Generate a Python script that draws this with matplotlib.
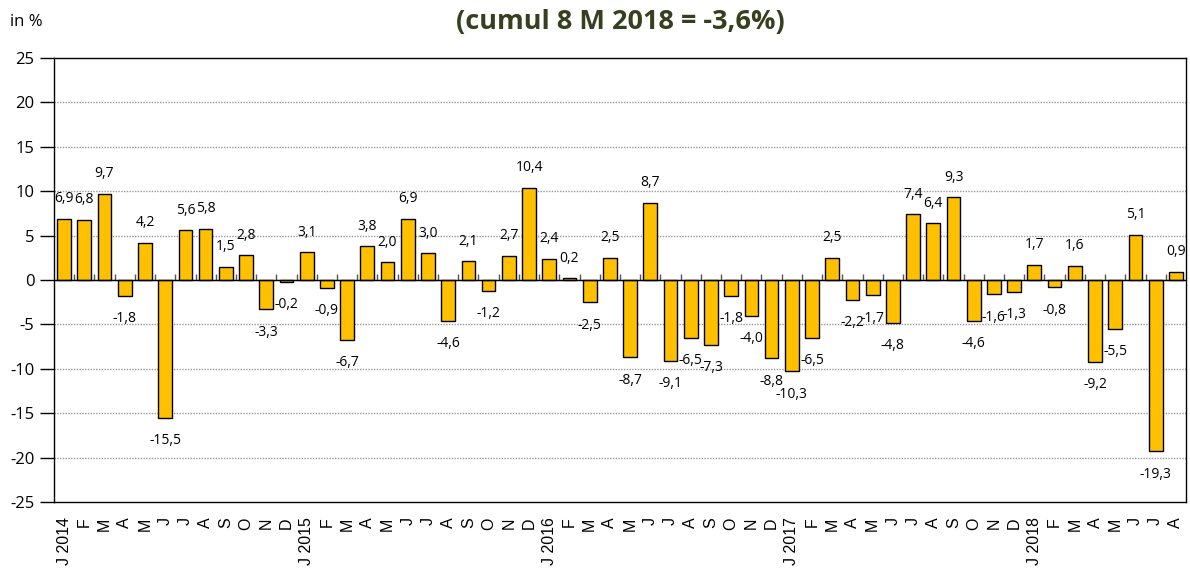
import numpy as np
import matplotlib
matplotlib.use("Agg")
import matplotlib.pyplot as plt

# ---- data ----
months = ["J", "F", "M", "A", "M", "J", "J", "A", "S", "O", "N", "D"]
years = [2014, 2015, 2016, 2017, 2018]
values_2014 = [6.9, 6.8, 9.7, -1.8, 4.2, -15.5, 5.6, 5.8, 1.5, 2.8, -3.3, -0.2]
values_2015 = [3.1, -0.9, -6.7, 3.8, 2.0, 6.9, 3.0, -4.6, 2.1, -1.2, 2.7, 10.4]
values_2016 = [2.4, 0.2, -2.5, 2.5, -8.7, 8.7, -9.1, -6.5, -7.3, -1.8, -4.0, -8.8]
values_2017 = [-10.3, -6.5, 2.5, -2.2, -1.7, -4.8, 7.4, 6.4, 9.3, -4.6, -1.6, -1.3]
values_2018 = [1.7, -0.8, 1.6, -9.2, -5.5, 5.1, -19.3, 0.9]
title = "(cumul 8 M 2018 = -3,6%)"
unit_label = "in %"

values = values_2014 + values_2015 + values_2016 + values_2017 + values_2018
tick_labels = []
for i in range(len(values)):
    m = i % 12
    y = years[i // 12]
    tick_labels.append(f"J {y}" if m == 0 else months[m])

# ---- figure ----
fig = plt.figure(figsize=(11.9, 5.7), dpi=100)
ax = fig.add_axes([0.0454, 0.1193, 0.9512, 0.7789])

x = np.arange(len(values))
ax.bar(x, values, width=0.68, color="#FFC000", edgecolor="black", linewidth=1.0, zorder=3)

ax.set_xlim(-0.5, len(values) - 0.5)
ax.set_ylim(-25, 25)
ax.set_yticks(np.arange(-25, 26, 5))
ax.set_yticklabels([str(v) for v in range(-25, 26, 5)], fontfamily="Open Sans", fontsize=12)
ax.tick_params(axis="y", direction="out", length=10, width=1, pad=4)

ax.set_xticks(x)
ax.set_xticklabels(tick_labels, rotation=90, fontfamily="Liberation Sans", fontsize=11.5, va="top")
ax.tick_params(axis="x", length=0, pad=11)

# gridlines
for gv in range(-20, 25, 5):
    if gv != 0:
        ax.axhline(gv, color="#9a9a9a", linestyle=(0, (1, 1)), linewidth=1.0, zorder=1)

for sp in ax.spines.values():
    sp.set_color("black")
    sp.set_linewidth(1.0)

# zero category axis with tick marks between categories
sec = ax.secondary_xaxis(0.5)
sec.set_xticks(np.arange(len(values) - 1) + 0.5)
sec.set_xticklabels([])
sec.tick_params(axis="x", direction="out", length=4, width=1, color="#555555")
sec.spines["bottom"].set_color("black")
sec.spines["bottom"].set_linewidth(1.0)
ax.axhline(0, color="black", linewidth=1.0, zorder=4)

# data labels
for xi, v in zip(x, values):
    lab = f"{v:.1f}".replace(".", ",")
    off = 14.5 if v >= 0 else -16.5
    ax.annotate(lab, (xi, v), xytext=(0, off), textcoords="offset points",
                ha="center", va="center", fontfamily="Open Sans", fontsize=10, zorder=5)

fig.text(0.521, 0.962, title, ha="center", va="center", fontfamily="Open Sans",
         fontweight="bold", fontsize=19.5, color="#36401f")
fig.text(0.008, 0.962, unit_label, ha="left", va="center", fontfamily="Open Sans", fontsize=12)

fig.savefig("out.png", dpi=100)
